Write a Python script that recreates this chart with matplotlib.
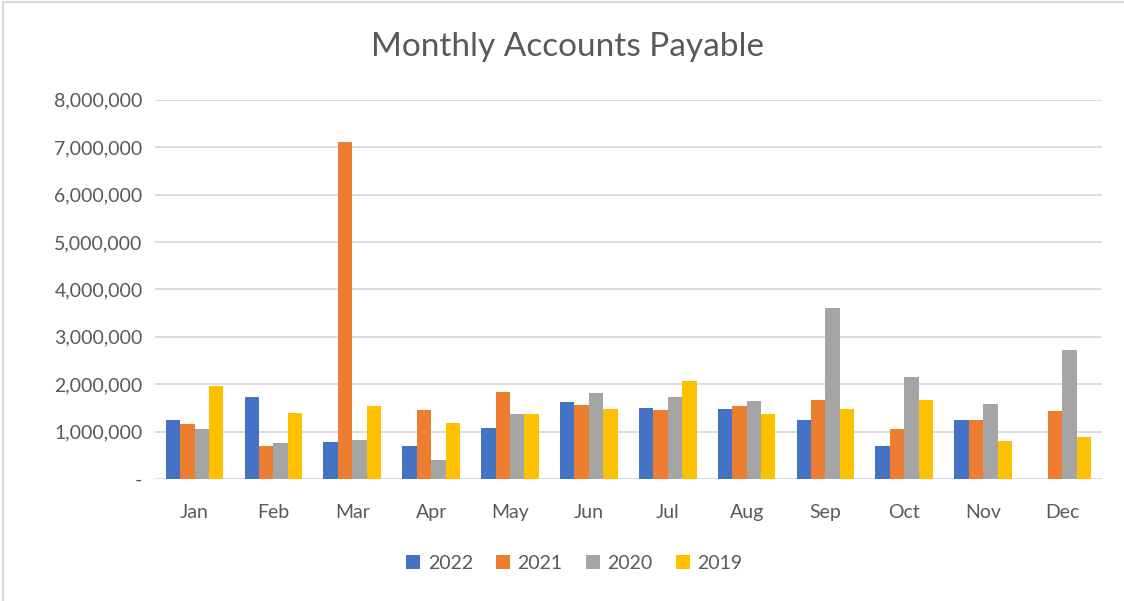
"""Monthly accounts payable, clustered bars by year."""

import matplotlib.pyplot as plt
import numpy as np
from matplotlib.ticker import FuncFormatter
from matplotlib.patches import Rectangle

months = ['Jan', 'Feb', 'Mar', 'Apr', 'May', 'Jun',
          'Jul', 'Aug', 'Sep', 'Oct', 'Nov', 'Dec']
years = ['2022', '2021', '2020', '2019']

ap_2022 = [1240000, 1720000, 780000, 700000, 1070000, 1620000,
           1500000, 1480000, 1240000, 700000, 1240000, 0]
ap_2021 = [1150000, 700000, 7100000, 1450000, 1830000, 1560000,
           1450000, 1530000, 1670000, 1050000, 1240000, 1430000]
ap_2020 = [1050000, 750000, 830000, 400000, 1370000, 1810000,
           1720000, 1640000, 3610000, 2160000, 1580000, 2720000]
ap_2019 = [1970000, 1400000, 1530000, 1180000, 1370000, 1480000,
           2070000, 1370000, 1480000, 1670000, 800000, 890000]

colors = ['#4472C4', '#ED7D31', '#A5A5A5', '#FFC000']
text_color = '#595959'

plt.rcParams['font.family'] = ['Lato', 'DejaVu Sans']

fig = plt.figure(figsize=(11.24, 6.01), dpi=100, facecolor='white')
ax = fig.add_axes([0.138, 0.203, 0.842, 0.631])

x = np.arange(len(months))
width = 0.183
series = [ap_2022, ap_2021, ap_2020, ap_2019]
for i, (vals, year) in enumerate(zip(series, years)):
    ax.bar(x + (i - 1.5) * width, vals, width, color=colors[i], label=year,
           zorder=3)

ax.set_xlim(-0.5, len(months) - 0.5)
ax.set_ylim(0, 8000000)
ax.set_yticks(np.arange(0, 8000001, 1000000))
ax.yaxis.set_major_formatter(FuncFormatter(lambda v, _: '-' if v == 0 else f'{v:,.0f}'))
ax.set_xticks(x)
ax.set_xticklabels(months)
ax.grid(axis='y', color='#D9D9D9', linewidth=1.3, zorder=0)
for s in ax.spines.values():
    s.set_visible(False)
ax.tick_params(length=0, labelsize=14, colors=text_color)
ax.tick_params(axis='x', pad=18)
ax.tick_params(axis='y', pad=9)

fig.text(0.505, 0.922, 'Monthly Accounts Payable', fontsize=24, color=text_color,
         ha='center', va='center')

fig.legend(loc='center', bbox_to_anchor=(0.511, 0.063), ncol=4, frameon=False,
           fontsize=14, labelcolor=text_color, handlelength=0.7, handleheight=0.7,
           handletextpad=0.4, columnspacing=1.2)

fig.patches.append(Rectangle((0.003, -0.01), 1.2, 1.007, transform=fig.transFigure,
                             fill=False, edgecolor='#D9D9D9', linewidth=1.5))

plt.savefig('out.png', dpi=100, facecolor='white')
plt.close()
